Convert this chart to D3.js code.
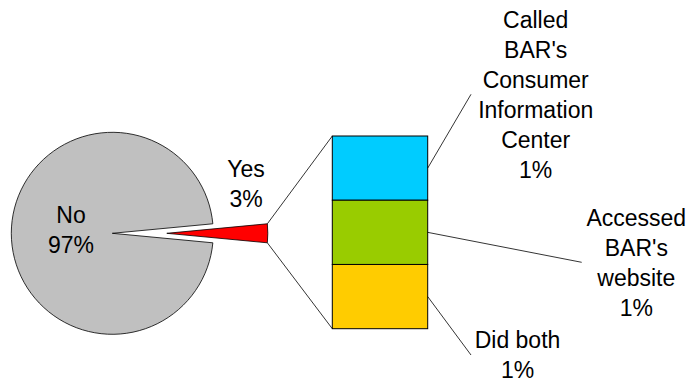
<!DOCTYPE html>
<html>
<head>
<meta charset="utf-8">
<script src="https://cdn.jsdelivr.net/npm/d3@7"></script>
<style>
    body { margin: 0; background: #fff; }
    text { font-family: "Liberation Sans", Arial, sans-serif; font-size: 23px; fill: #000; }
</style>
</head>
<body>
<div id="chart"></div>
<script>
// pie data
var pie_labels = ["No", "Yes"];
var pie_values = [97, 3];
var pie_colors = ["#C0C0C0", "#FF0000"];

// breakdown of the "Yes" slice, top to bottom
var bar_labels = [
    ["Called", "BAR's", "Consumer", "Information", "Center"],
    ["Accessed", "BAR's", "website"],
    ["Did both"]
];
var bar_values = [1, 1, 1];
var bar_colors = ["#00CCFF", "#99CC00", "#FFCC00"];

const width = 691, height = 378;
const cx = 112.3, cy = 233.3, radius = 101;
const explode = 54.5;

var svg = d3.select("#chart")
    .append("svg")
    .attr("width", width)
    .attr("height", height);

const total = d3.sum(pie_values);
const yesShare = pie_values[1] / total * 2 * Math.PI;

// "No" starts just below 3 o'clock and runs clockwise, "Yes" ends up centred on 3 o'clock
var pie = d3.pie()
    .sort(null)
    .startAngle(Math.PI / 2 + yesShare / 2)
    .endAngle(Math.PI / 2 + yesShare / 2 + 2 * Math.PI);

var arcs = pie(pie_values);
var arc = d3.arc().innerRadius(0).outerRadius(radius);

svg.selectAll("path.slice")
    .data(arcs)
    .enter()
    .append("path")
    .attr("class", "slice")
    .attr("d", arc)
    .attr("fill", function (d, i) { return pie_colors[i]; })
    .attr("stroke", "#000")
    .attr("stroke-width", 0.8)
    .attr("transform", function (d, i) {
        var dx = i == 1 ? explode : 0;
        return "translate(" + (cx + dx) + "," + cy + ")";
    });

// bar of the "Yes" breakdown
const barX0 = 332.3, barX1 = 427.7;
var y = d3.scaleLinear()
    .domain([0, d3.sum(bar_values)])
    .range([136, 328.7]);

var stacked = [];
var acc = 0;
bar_values.forEach(function (v, i) {
    stacked.push({ y0: acc, y1: acc + v, i: i });
    acc += v;
});

svg.selectAll("rect.seg")
    .data(stacked)
    .enter()
    .append("rect")
    .attr("class", "seg")
    .attr("x", barX0)
    .attr("width", barX1 - barX0)
    .attr("y", function (d) { return y(d.y0); })
    .attr("height", function (d) { return y(d.y1) - y(d.y0); })
    .attr("fill", function (d) { return bar_colors[d.i]; })
    .attr("stroke", "#000")
    .attr("stroke-width", 1);

// connector lines from the exploded slice corners to the bar corners
var yes = arcs[1];
function corner(a) {
    return [cx + explode + radius * Math.sin(a), cy - radius * Math.cos(a)];
}
var pTop = corner(yes.startAngle), pBot = corner(yes.endAngle);
if (pTop[1] > pBot[1]) { var t = pTop; pTop = pBot; pBot = t; }

svg.append("line")
    .attr("x1", pTop[0]).attr("y1", pTop[1])
    .attr("x2", barX0).attr("y2", y(0))
    .attr("stroke", "#000").attr("stroke-width", 0.8);
svg.append("line")
    .attr("x1", pBot[0]).attr("y1", pBot[1])
    .attr("x2", barX0).attr("y2", y(d3.sum(bar_values)))
    .attr("stroke", "#000").attr("stroke-width", 0.8);

// pie labels
var pie_label_pos = [[71, 222.7], [246, 176.7]];
pie_labels.forEach(function (lab, i) {
    var pct = Math.round(pie_values[i] / total * 100) + "%";
    var txt = svg.append("text")
        .attr("text-anchor", "middle")
        .attr("x", pie_label_pos[i][0])
        .attr("y", pie_label_pos[i][1]);
    [lab, pct].forEach(function (line, k) {
        txt.append("tspan")
            .attr("x", pie_label_pos[i][0])
            .attr("dy", k == 0 ? 0 : 30)
            .text(line);
    });
});

// bar labels with leader lines
var leader_ends = [[471, 94.3], [581.7, 262.3], [471, 355]];
var label_pos = [[535.7, 27.7], [636.3, 225.7], [517.5, 348.3]];

stacked.forEach(function (d) {
    var i = d.i;
    var ym = (y(d.y0) + y(d.y1)) / 2;
    svg.append("line")
        .attr("x1", barX1).attr("y1", ym)
        .attr("x2", leader_ends[i][0]).attr("y2", leader_ends[i][1])
        .attr("stroke", "#000").attr("stroke-width", 0.8);

    var lines = bar_labels[i].concat([bar_values[i] + "%"]);
    var txt = svg.append("text")
        .attr("text-anchor", "middle")
        .attr("x", label_pos[i][0])
        .attr("y", label_pos[i][1]);
    lines.forEach(function (line, k) {
        txt.append("tspan")
            .attr("x", label_pos[i][0])
            .attr("dy", k == 0 ? 0 : 30)
            .text(line);
    });
});
</script>
</body>
</html>
